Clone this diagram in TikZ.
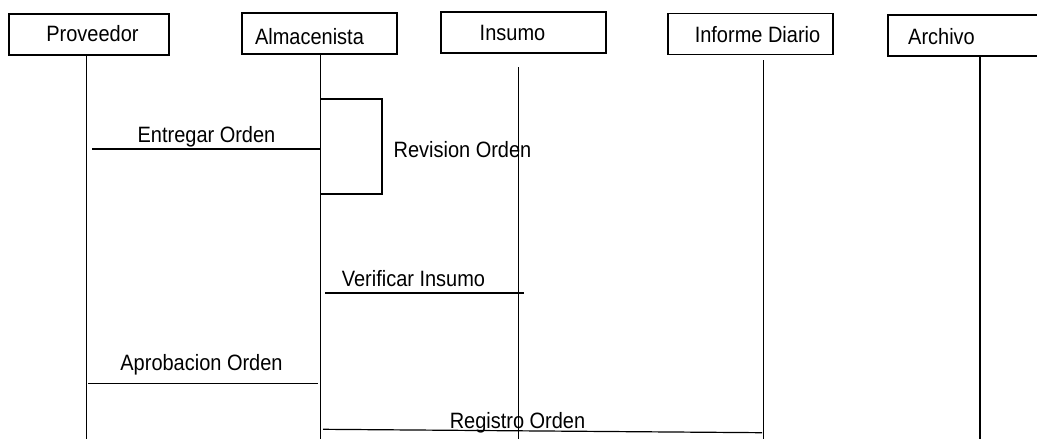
\documentclass[tikz,border=0pt]{standalone}
\usepackage{fontspec}
\setmainfont{Liberation Sans}[FakeStretch=0.9]
\begin{document}
\begin{tikzpicture}[x=1pt,y=-1pt,
  objbox/.style={draw, line width=1.2pt, inner sep=0pt, minimum width=#1, minimum height=41pt},
  lbl/.style={anchor=base, inner sep=0pt, font=\fontsize{22.2}{25}\selectfont},
  life/.style={line width=1.2pt},
  msg/.style={line width=1.2pt}]
\useasboundingbox (0,0) rectangle (1037,439);
\clip (0,0) rectangle (1037,439);
\fill[white] (0,0) rectangle (1037,439);
% objects
\node[objbox=160pt] (prov) at (89,34.5) {};
\node[objbox=155pt] (alm) at (319.5,33.5) {};
\node[objbox=165pt] (ins) at (523.5,32.5) {};
\node[objbox=165pt] (inf) at (750.5,34) {};
\node[objbox=160pt] (arc) at (968,35.5) {};
\node[lbl] (provt) at (92.5,41) {Proveedor};
\node[lbl] (almt) at (309.5,45) {Almacenista};
\node[lbl] (inst) at (512.5,40) {Insumo};
\node[lbl] (inft) at (757.5,42) {Informe Diario};
\node[lbl] (arct) at (941.5,45) {Archivo};
% lifelines
\coordinate (p1) at (86.7,55);  \coordinate (p2) at (86.7,439);
\coordinate (a1) at (320.7,54); \coordinate (a2) at (320.7,439);
\coordinate (i1) at (518.3,67); \coordinate (i2) at (518.3,439);
\coordinate (f1) at (763.3,60); \coordinate (f2) at (763.3,439);
\coordinate (r1) at (980,55);   \coordinate (r2) at (980,439);
\draw[life] (p1) -- (p2);
\draw[life] (a1) -- (a2);
\draw[life] (i1) -- (i2);
\draw[life] (f1) -- (f2);
\draw[life] (r1) -- (r2);
% Entregar Orden
\coordinate (e1) at (92,149); \coordinate (e2) at (320.7,149);
\draw[msg] (e1) -- (e2);
\node[lbl] (et) at (206.5,142) {Entregar Orden};
% Revision Orden bracket
\coordinate (rv1) at (320.7,99); \coordinate (rv2) at (382,194); \coordinate (rv3) at (320.7,194);
\draw[msg] (rv1) -| (rv2) -- (rv3);
\node[lbl] (rvt) at (462.5,157) {Revision Orden};
% Verificar Insumo
\coordinate (v1) at (325,293); \coordinate (v2) at (524,293);
\draw[msg] (v1) -- (v2);
\node[lbl] (vt) at (413.5,286) {Verificar Insumo};
% Aprobacion Orden
\coordinate (ap1) at (88,383.3); \coordinate (ap2) at (318,383.3);
\draw[msg] (ap1) -- (ap2);
\node[lbl] (apt) at (201.5,370.7) {Aprobacion Orden};
% Registro Orden
\coordinate (rg1) at (323,429.3); \coordinate (rg2) at (762,432.7);
\draw[msg] (rg1) -- (rg2);
\node[lbl] (rgt) at (517.5,428.3) {Registro Orden};
\end{tikzpicture}
\end{document}
